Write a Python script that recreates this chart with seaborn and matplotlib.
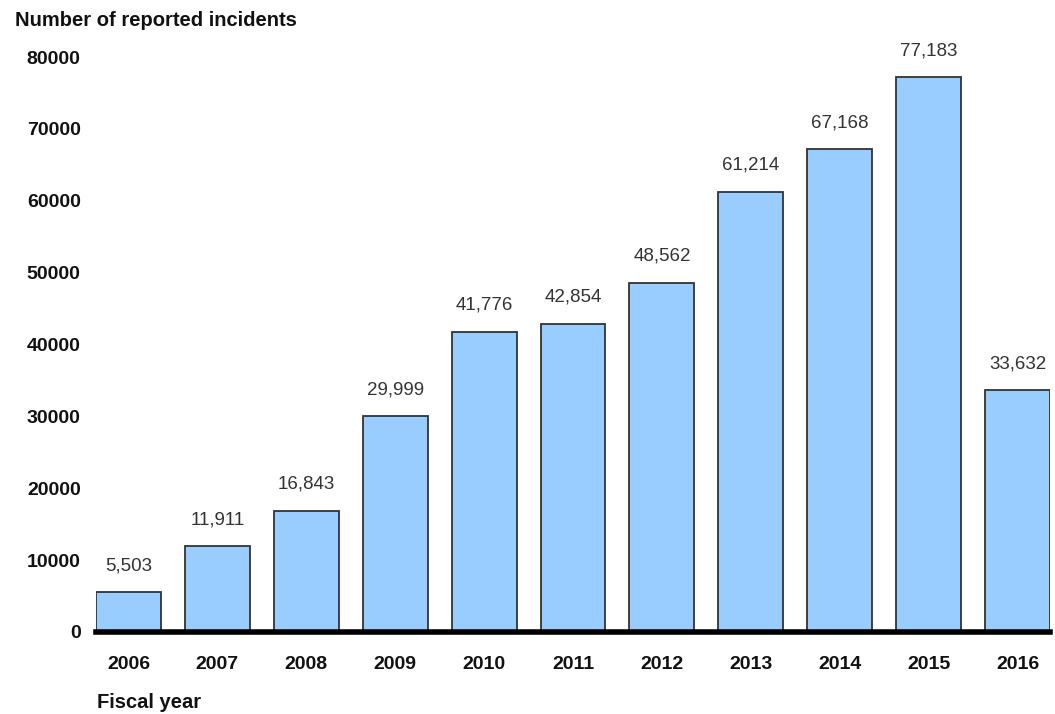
import matplotlib
matplotlib.use("Agg")
import matplotlib.pyplot as plt
import seaborn as sns
import pandas as pd

years = ["2006", "2007", "2008", "2009", "2010", "2011", "2012", "2013", "2014", "2015", "2016"]
incidents = [5503, 11911, 16843, 29999, 41776, 42854, 48562, 61214, 67168, 77183, 33632]
y_ticks = [0, 10000, 20000, 30000, 40000, 50000, 60000, 70000, 80000]

sns.set_theme(style="white")
plt.rcParams["font.family"] = ["Liberation Sans", "DejaVu Sans"]

df = pd.DataFrame({"year": years, "incidents": incidents})

fig = plt.figure(figsize=(10.55, 7.14), dpi=100)
ax = fig.add_axes([96 / 1055, 1 - 632 / 714, (1050 - 96) / 1055, (632 - 57) / 714])

sns.barplot(data=df, x="year", y="incidents", color="#99ccff", saturation=1,
            width=0.73, edgecolor="#333333", linewidth=1.3, ax=ax)

ax.set_xlim(-0.365, 10.365)
ax.set_ylim(0, 80000)
ax.set_yticks(y_ticks)
ax.set_yticklabels([str(v) for v in y_ticks], fontsize=14, fontweight="bold")
ax.set_xticks(range(len(years)))
ax.set_xticklabels(years, fontsize=14, fontweight="bold")
ax.tick_params(axis="both", length=0, colors="#111111")
ax.tick_params(axis="y", pad=11)
ax.tick_params(axis="x", pad=17)
ax.set_xlabel("")
ax.set_ylabel("")

for s in ["top", "right", "left"]:
    ax.spines[s].set_visible(False)
ax.spines["bottom"].set_color("black")
ax.spines["bottom"].set_linewidth(4)

for i, v in enumerate(incidents):
    ax.annotate(f"{v:,}", (i, v), xytext=(0, 13), textcoords="offset points",
                ha="center", va="bottom", fontsize=13.5, color="#333333",
                annotation_clip=False)

fig.text(15 / 1055, 1 - 20 / 714, "Number of reported incidents", fontsize=14.5,
         fontweight="bold", color="#111111", va="center", ha="left")
fig.text(97 / 1055, 1 - 703 / 714, "Fiscal year", fontsize=14.5,
         fontweight="bold", color="#111111", va="center", ha="left")

fig.savefig("out.png", dpi=100)
